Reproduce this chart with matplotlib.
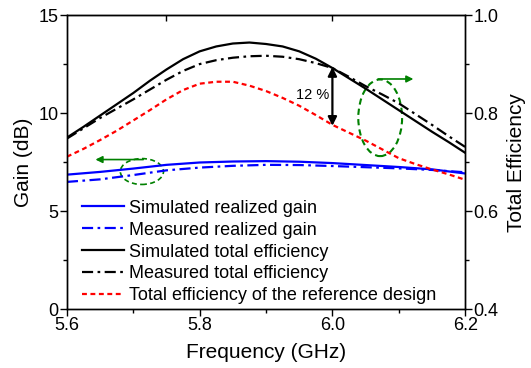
import matplotlib
matplotlib.use("Agg")
import matplotlib.pyplot as plt
from matplotlib.patches import Ellipse
from matplotlib.ticker import MultipleLocator, FixedLocator

plt.rcParams["font.family"] = ["Liberation Sans", "DejaVu Sans"]

# realized gain (dB), 50 MHz steps
freq_gain = [5.60, 5.65, 5.70, 5.75, 5.80, 5.85, 5.90, 5.95, 6.00, 6.05, 6.10, 6.15, 6.20]
gain_sim = [6.86, 7.00, 7.17, 7.36, 7.48, 7.53, 7.55, 7.52, 7.45, 7.35, 7.25, 7.13, 6.92]
gain_meas = [6.49, 6.62, 6.84, 7.08, 7.22, 7.31, 7.36, 7.35, 7.30, 7.24, 7.18, 7.10, 6.98]

# total efficiency, 25 MHz steps
freq_eff = [5.600, 5.625, 5.650, 5.675, 5.700, 5.725, 5.750, 5.775, 5.800,
            5.825, 5.850, 5.875, 5.900, 5.925, 5.950, 5.975, 6.000, 6.025,
            6.050, 6.075, 6.100, 6.125, 6.150, 6.175, 6.200]
eff_sim = [0.750, 0.772, 0.795, 0.818, 0.841, 0.866, 0.889, 0.910, 0.926,
           0.936, 0.942, 0.944, 0.941, 0.936, 0.926, 0.911, 0.892, 0.871,
           0.850, 0.828, 0.806, 0.784, 0.762, 0.741, 0.719]
eff_meas = [0.748, 0.769, 0.790, 0.809, 0.828, 0.848, 0.868, 0.886, 0.900,
            0.908, 0.913, 0.916, 0.917, 0.915, 0.910, 0.902, 0.892, 0.874,
            0.855, 0.838, 0.820, 0.798, 0.776, 0.753, 0.731]
eff_ref = [0.711, 0.727, 0.745, 0.764, 0.785, 0.806, 0.828, 0.847, 0.860,
           0.864, 0.864, 0.856, 0.845, 0.831, 0.815, 0.796, 0.776, 0.760,
           0.744, 0.726, 0.708, 0.696, 0.685, 0.675, 0.664]

fig = plt.figure(figsize=(5.31, 3.68), dpi=100)
ax = fig.add_axes([0.126, 0.160, 0.750, 0.799])
ax2 = ax.twinx()

dashdot = (0, (5, 2, 1.2, 2))
l1, = ax.plot(freq_gain, gain_sim, color="#0000ff", lw=1.6, label="Simulated realized gain")
l2, = ax.plot(freq_gain, gain_meas, color="#0000ff", lw=1.6, ls=dashdot, label="Measured realized gain")
l3, = ax2.plot(freq_eff, eff_sim, color="black", lw=1.6, label="Simulated total efficiency")
l4, = ax2.plot(freq_eff, eff_meas, color="black", lw=1.6, ls=dashdot, label="Measured total efficiency")
l5, = ax2.plot(freq_eff, eff_ref, color="#ff0000", lw=1.6, ls=(0, (2.2, 1.6)),
               label="Total efficiency of the reference design")

ax.set_xlim(5.6, 6.2)
ax.set_ylim(0, 15)
ax2.set_ylim(0.4, 1.0)

ax.xaxis.set_major_locator(FixedLocator([5.6, 5.8, 6.0, 6.2]))
ax.xaxis.set_minor_locator(FixedLocator([5.7, 5.9, 6.1]))
ax.set_xticklabels(["5.6", "5.8", "6.0", "6.2"])
ax.yaxis.set_major_locator(MultipleLocator(5))
ax.yaxis.set_minor_locator(MultipleLocator(2.5))
ax2.yaxis.set_major_locator(MultipleLocator(0.2))
ax2.yaxis.set_minor_locator(MultipleLocator(0.1))
ax2.set_yticks([0.4, 0.6, 0.8, 1.0])
ax2.set_yticklabels(["0.4", "0.6", "0.8", "1.0"])

for a in (ax, ax2):
    a.tick_params(which="major", direction="out", length=5, width=1, labelsize=13, pad=1)
    a.tick_params(which="minor", direction="out", length=3, width=1)
    for s in a.spines.values():
        s.set_linewidth(1)

# inner ticks on the top frame
topx = ax.secondary_xaxis("top")
topx.set_xticks([5.75, 6.0])
topx.tick_params(direction="in", length=4, width=1, labeltop=False)
topx.set_xticklabels([])

ax.set_xlabel("Frequency (GHz)", fontsize=15, labelpad=6)
ax.set_ylabel("Gain (dB)", fontsize=15, labelpad=4)
ax2.set_ylabel("Total Efficiency", fontsize=15, labelpad=6)

# 12 % gap at 6.0 GHz
ax2.annotate("", xy=(6.0, 0.774), xytext=(6.0, 0.894),
             arrowprops=dict(arrowstyle="<|-|>", color="black", lw=1.6,
                             mutation_scale=13, shrinkA=0, shrinkB=0))
ax2.text(5.97, 0.837, "12 %", fontsize=10.5, ha="center", va="center")

# green markers pointing to the axes
green = "#008000"
ax.add_patch(Ellipse((5.713, 7.02), 0.065, 1.32, fill=False, ec=green, lw=1.2, ls=(0, (3, 2))))
ax.annotate("", xy=(5.643, 7.63), xytext=(5.715, 7.63),
            arrowprops=dict(arrowstyle="-|>", color=green, lw=1.2, mutation_scale=10,
                            shrinkA=0, shrinkB=0))
ax.add_patch(Ellipse((6.072, 9.76), 0.066, 3.91, fill=False, ec=green, lw=1.5, ls=(0, (3, 2))))
ax.annotate("", xy=(6.122, 11.74), xytext=(6.069, 11.74),
            arrowprops=dict(arrowstyle="-|>", color=green, lw=1.2, mutation_scale=10,
                            shrinkA=0, shrinkB=0))

ax2.legend(handles=[l1, l2, l3, l4, l5], loc="lower left", bbox_to_anchor=(0.02, -0.008),
           frameon=False, fontsize=13, handlelength=2.3, handletextpad=0.3,
           labelspacing=0.27, borderaxespad=0.0)

fig.savefig("out.png", dpi=100)
